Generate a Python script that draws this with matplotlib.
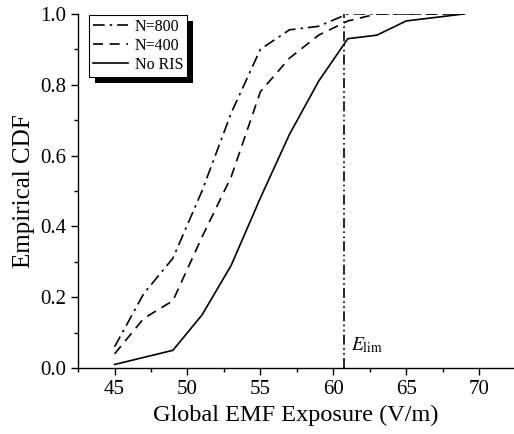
import numpy as np, matplotlib
matplotlib.use('Agg')
import matplotlib.pyplot as plt
from matplotlib.patches import Rectangle
from matplotlib.ticker import MultipleLocator, FormatStrFormatter
from matplotlib.transforms import IdentityTransform

plt.rcParams['font.family'] = ['Liberation Serif', 'DejaVu Serif']
plt.rcParams['mathtext.fontset'] = 'stix'

x_800 = [45, 47, 49, 51, 53, 55, 57, 59, 61, 63, 65, 67, 69]
y_800 = [0.06, 0.21, 0.31, 0.50, 0.72, 0.90, 0.955, 0.965, 1.0, 1.0, 1.0, 1.0, 1.0]
x_400 = [45, 47, 49, 51, 53, 55, 57, 59, 61, 63, 65, 67, 69]
y_400 = [0.04, 0.14, 0.19, 0.37, 0.54, 0.78, 0.875, 0.94, 0.98, 1.0, 1.0, 1.0, 1.0]
x_norIS = [45, 49, 51, 53, 55, 57, 59, 61, 63, 65, 69]
y_norIS = [0.01, 0.05, 0.15, 0.29, 0.48, 0.66, 0.81, 0.93, 0.94, 0.98, 1.0]
E_lim = 60.75

fig = plt.figure(figsize=(5.14, 4.34), dpi=100)
ax = fig.add_axes([0.152, 0.152, 0.848, 0.816])

ax.plot(x_800, y_800, color='k', lw=1.2, ls=(0, (7, 3, 1.5, 3)), label='N=800')
ax.plot(x_400, y_400, color='k', lw=1.2, ls=(0, (6, 4)), label='N=400')
ax.plot(x_norIS, y_norIS, color='k', lw=1.2, ls='-', label='No RIS')
ax.axvline(E_lim, color='k', lw=1.2, ls=(0, (6, 2, 1, 2, 1, 2)))
ax.text(E_lim + 0.5, 0.065, r'$E_{\rm lim}$', fontsize=14, ha='left', va='center')

ax.set_xlim(42.5, 72.4)
ax.set_ylim(0, 1.0)
ax.xaxis.set_major_locator(MultipleLocator(5))
ax.xaxis.set_minor_locator(MultipleLocator(2.5))
ax.yaxis.set_major_locator(MultipleLocator(0.2))
ax.yaxis.set_minor_locator(MultipleLocator(0.1))
ax.yaxis.set_major_formatter(FormatStrFormatter('%.1f'))
ax.tick_params(which='major', direction='out', length=5, width=1, labelsize=15)
ax.tick_params(which='minor', direction='out', length=3, width=1)
for s in ['top', 'right']:
    ax.spines[s].set_visible(False)
for s in ['left', 'bottom']:
    ax.spines[s].set_linewidth(1.0)
ax.set_xlabel('Global EMF Exposure (V/m)', fontsize=17.5, labelpad=4)
ax.set_ylabel('Empirical CDF', fontsize=18, labelpad=4)

leg = ax.legend(loc='upper left', bbox_to_anchor=(0.025, 0.998), fontsize=11.5,
                fancybox=False, edgecolor='k', framealpha=1, handlelength=2.2,
                borderpad=0.25, labelspacing=0.2, handletextpad=0.4, borderaxespad=0.0)
leg.get_frame().set_linewidth(0.8)

fig.canvas.draw()
bb = leg.get_window_extent()
off = 6
shadow = Rectangle((bb.x0 + off, bb.y0 - off), bb.width, bb.height,
                   transform=IdentityTransform(), facecolor='k', edgecolor='none',
                   zorder=4, clip_on=False)
ax.add_patch(shadow)
shadow.set_transform(IdentityTransform())
leg.set_zorder(10)

fig.savefig('out.png', dpi=100)
